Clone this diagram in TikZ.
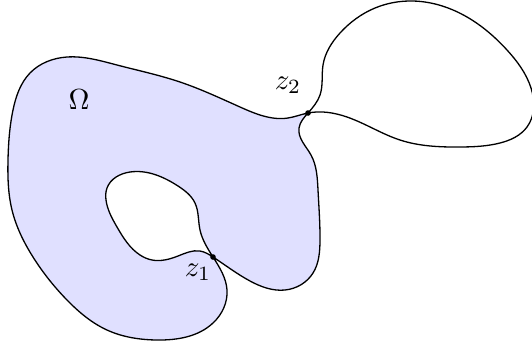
\documentclass[tikz,border=0pt]{standalone}
\usetikzlibrary{positioning,hobby}

\tikzset{
	omegafill/.style={fill=blue!12},
	zdot/.style={fill=black},
	curveline/.style={line width=0.45pt, line join=round},
}

\begin{document}
\begin{tikzpicture}[x=0.345pt, y=0.345pt]
	\useasboundingbox (0,0) rectangle (532,-347);
	\coordinate (z1) at (213,-257);
	\coordinate (z2) at (308,-113);
	% one closed curve, it crosses itself at z1 and z2
	\path[save path=\omegacurve] plot[closed hobby] coordinates {
		(z2) (288,-118) (240,-107) (180,-82) (117,-65) (67,-57) (30,-73) (13,-110) (8,-160) (12,-210) (33,-257) (67,-300) (107,-330) (157,-340) (213,-323) (227,-290)
		(z1) (200,-230) (195,-203) (178,-186) (130,-172) (107,-188) (106,-200) (117,-227) (140,-255) (152,-260) (178,-256) (200,-251)
		(z1) (250,-281) (285,-290) (313,-273) (320,-240) (318,-190) (311,-155) (299,-128)
		(z2) (320,-95) (323,-65) (340,-33) (375,-8) (413,-1) (467,-17) (507,-50) (531,-88) (527,-127) (500,-143) (460,-147) (400,-140) (347,-117)};
	% fill only the part left of the loop at z2
	\begin{scope}
		\clip (-5,5) -- (300,5) -- (290,-82) -- (z2) -- (330,-150) -- (540,-150) -- (540,-352) -- (-5,-352) -- cycle;
		\fill[omegafill, even odd rule, use path=\omegacurve];
	\end{scope}
	\draw[curveline, use path=\omegacurve];
	\fill[zdot] (z1) circle (2.8);
	\fill[zdot] (z2) circle (2.8);
	\node (omega) at (79,-100) {$\Omega$};
	\node (lbl2) at (288,-85) {$z_2$};
	\node (lbl1) at (198,-272) {$z_1$};
\end{tikzpicture}
\end{document}
